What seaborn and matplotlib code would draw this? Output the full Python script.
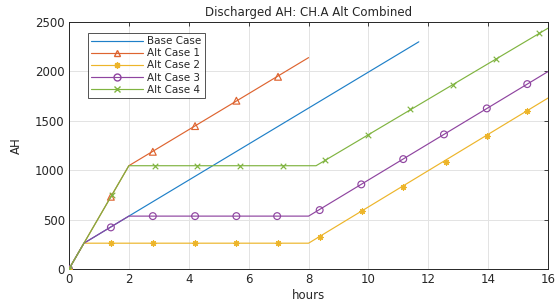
import matplotlib
matplotlib.use("Agg")
import matplotlib.pyplot as plt
import seaborn as sns
import pandas as pd
from matplotlib.lines import Line2D

# ---- data (hours, AH) ----
series_names = ["Base Case", "Alt Case 1", "Alt Case 2", "Alt Case 3", "Alt Case 4"]

# breakpoints of each piecewise line
base_x = [0, 0.5, 2, 11.68]
base_y = [0, 262, 536, 2300]
alt1_x = [0, 2, 8.0]
alt1_y = [0, 1046, 2140]
alt2_x = [0, 0.5, 8, 16]
alt2_y = [0, 262, 262, 1732]
alt3_x = [0, 0.5, 2, 8, 16]
alt3_y = [0, 262, 536, 536, 2000]
alt4_x = [0, 2, 8.25, 16]
alt4_y = [0, 1046, 1046, 2439]

# marker positions
alt1_mx = [0, 1.4, 2.8, 4.21, 5.59, 6.98]
alt1_my = [0, 732, 1187, 1447, 1704, 1946]
alt2_mx = [0, 1.4, 2.8, 4.21, 5.59, 6.97, 8.39, 9.79, 11.16, 12.58, 13.97, 15.3]
alt2_my = [0, 262, 262, 262, 262, 262, 327, 587, 833, 1086, 1346, 1603]
alt3_mx = [0, 1.4, 2.8, 4.21, 5.59, 6.95, 8.37, 9.76, 11.16, 12.52, 13.95, 15.3]
alt3_my = [0, 422, 536, 536, 536, 536, 597, 857, 1113, 1363, 1626, 1872]
alt4_mx = [0, 1.43, 2.86, 4.29, 5.71, 7.14, 8.55, 9.97, 11.4, 12.83, 14.25, 15.7]
alt4_my = [0, 746, 1046, 1046, 1046, 1046, 1099, 1356, 1616, 1862, 2122, 2385]

colors = ["#1f80c8", "#de6430", "#edb52a", "#8f45a0", "#80b440"]
markers = [None, "^", (8, 2, 0), "o", "x"]

lines = pd.concat([
    pd.DataFrame({"hours": x, "AH": y, "case": n})
    for n, x, y in zip(series_names,
                       [base_x, alt1_x, alt2_x, alt3_x, alt4_x],
                       [base_y, alt1_y, alt2_y, alt3_y, alt4_y])
], ignore_index=True)

marks = [None, (alt1_mx, alt1_my), (alt2_mx, alt2_my), (alt3_mx, alt3_my), (alt4_mx, alt4_my)]

sns.set_style("white")
plt.rcParams["font.family"] = ["DejaVu Sans"]

fig = plt.figure(figsize=(5.56, 3.02), dpi=100)
ax = fig.add_axes([0.124, 0.109, 0.862, 0.818])

for i, name in enumerate(series_names):
    sub = lines[lines["case"] == name]
    sns.lineplot(data=sub, x="hours", y="AH", color=colors[i], lw=0.85,
                 sort=False, estimator=None, ax=ax, legend=False, zorder=2 + i)
    if marks[i] is not None:
        mx, my = marks[i]
        if markers[i] in ("^", "o"):
            sns.scatterplot(x=mx, y=my, marker=markers[i], s=24, color=colors[i],
                            facecolor="none", edgecolor=colors[i], linewidth=0.85,
                            ax=ax, legend=False, zorder=2 + i)
        else:
            sns.scatterplot(x=mx, y=my, marker=markers[i], s=16, color=colors[i],
                            linewidth=0.85, ax=ax, legend=False, zorder=2 + i)

ax.set_xlim(0, 16)
ax.set_ylim(0, 2500)
ax.set_xticks(range(0, 17, 2))
ax.set_yticks(range(0, 2501, 500))
ax.grid(True, color="#e3e3e3", lw=0.7)
ax.set_axisbelow(True)
ax.tick_params(direction="in", length=3, width=0.6, top=True, right=True,
               labelsize=8.5, colors="#262626", pad=3)
for s in ax.spines.values():
    s.set_color("#262626")
    s.set_linewidth(0.7)

ax.set_xlabel("hours", fontsize=8.5, labelpad=2, color="#262626")
ax.set_ylabel("AH", fontsize=8.5, labelpad=9, color="#262626")
ax.set_title("Discharged AH: CH.A Alt Combined", fontsize=8.5, pad=4, color="#262626")

handles = []
for i, name in enumerate(series_names):
    if markers[i] in ("^", "o"):
        h = Line2D([], [], color=colors[i], lw=0.85, marker=markers[i], ms=5,
                   mfc="none", mec=colors[i])
    elif markers[i] is None:
        h = Line2D([], [], color=colors[i], lw=0.85)
    else:
        h = Line2D([], [], color=colors[i], lw=0.85, marker=markers[i], ms=4.5)
    handles.append(h)

leg = ax.legend(handles, series_names, loc="upper left", bbox_to_anchor=(0.04, 0.955),
                fontsize=7.5, frameon=True, fancybox=False, handlelength=5.0,
                handletextpad=0.4, borderpad=0.3, labelspacing=0.2, borderaxespad=0)
leg.get_frame().set_edgecolor("#262626")
leg.get_frame().set_linewidth(0.7)

fig.savefig("out.png", dpi=100)
